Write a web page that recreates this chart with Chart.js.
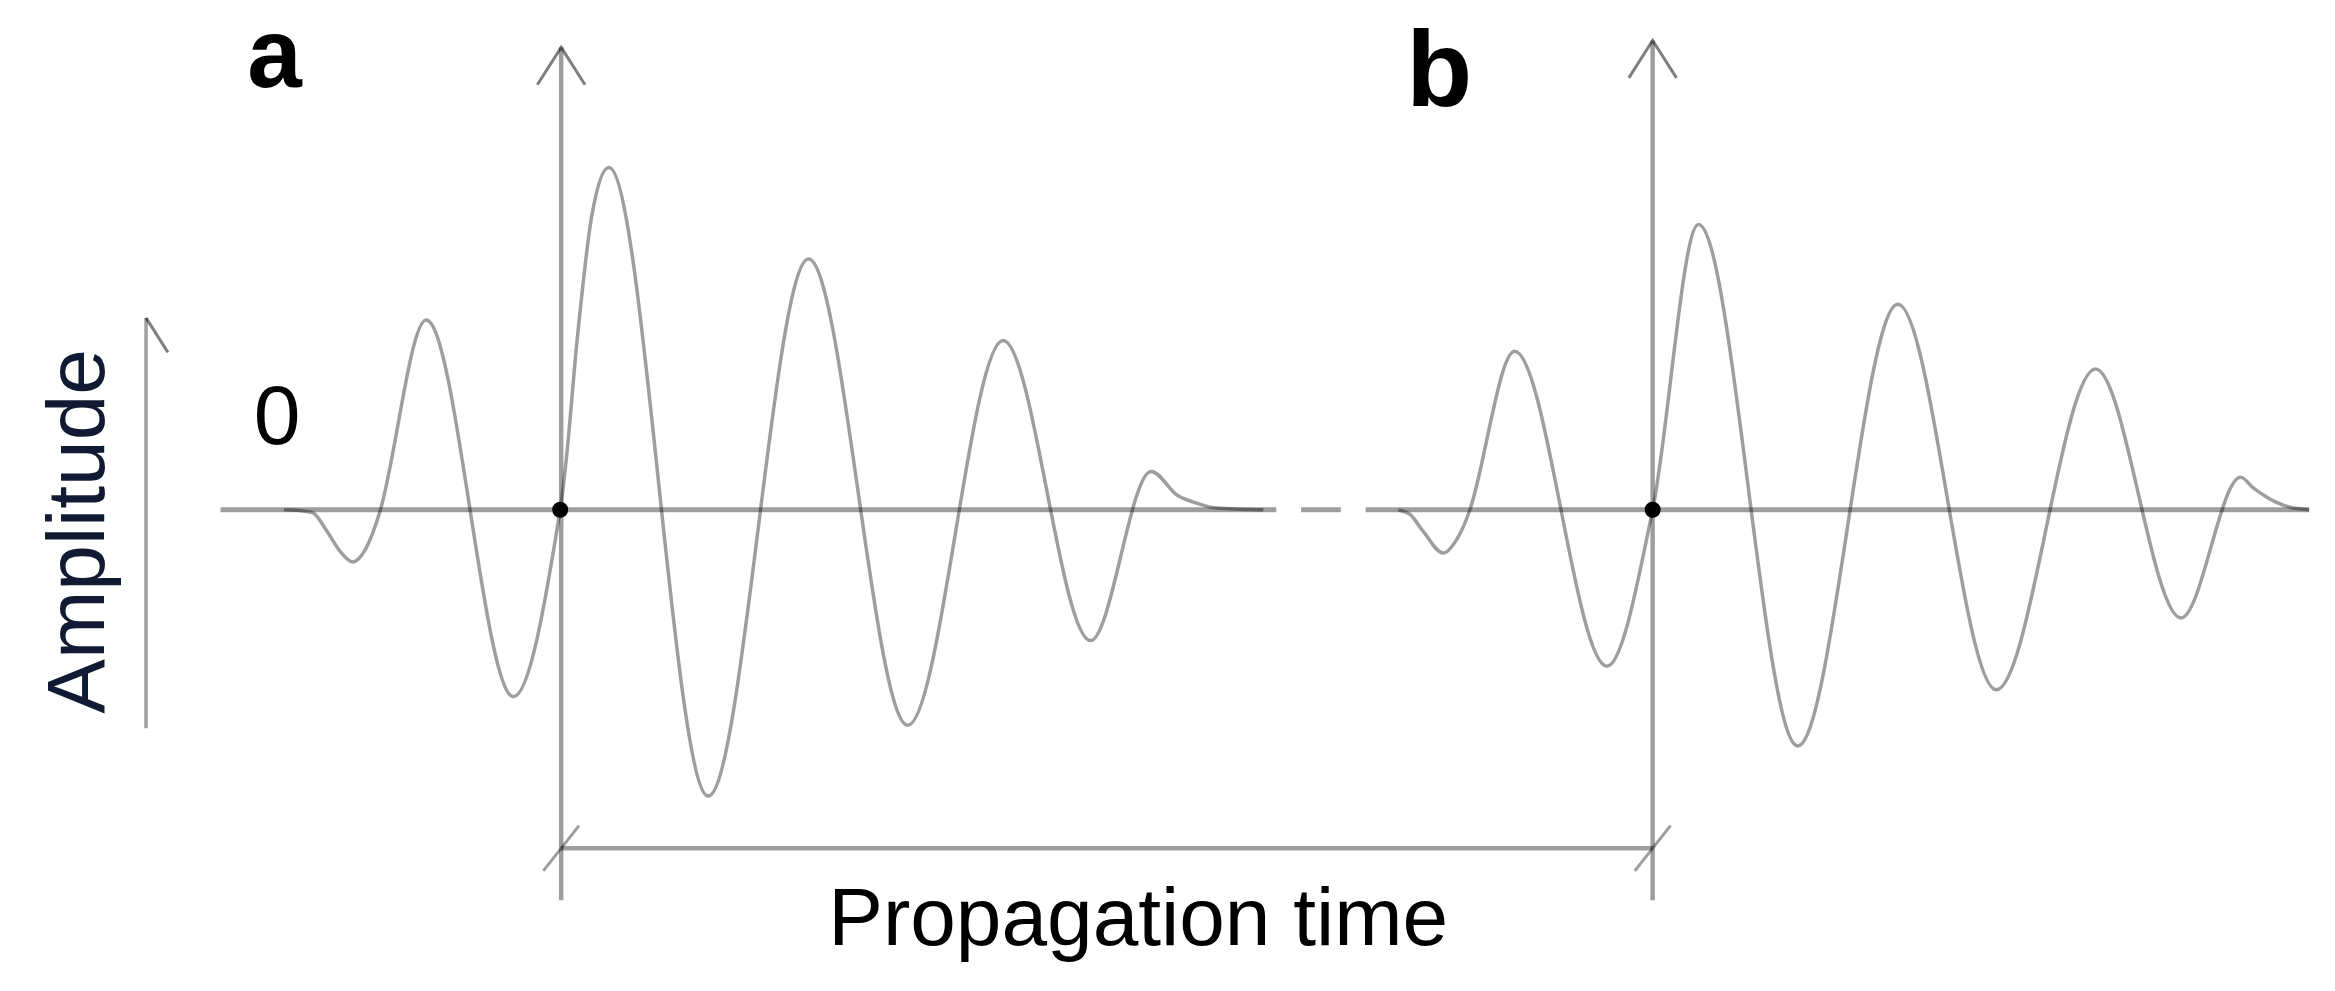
<!DOCTYPE html>
<html>
<head>
<meta charset="utf-8">
<script src="https://cdn.jsdelivr.net/npm/chart.js@4"></script>
<style>
  html, body { margin: 0; padding: 0; background: #fff; }
  canvas { display: block; }
</style>
</head>
<body>
<canvas id="chart" width="2335" height="991"></canvas>
<script>
'use strict'
// valores (tiempo, amplitud; 0 = linea base)
// onda a: inicio, picos/valles, flanco junto al punto de llegada, cola
const waveATime = [278, 307, 320, 335, 347, 360, 375, 421, 509, 556, 563, 573, 588, 605, 705, 806, 906, 1002, 1090, 1151, 1177, 1193, 1215, 1264]
const waveAAmp = [0, -3, -20, -43, -53, -40, 0, 193, -190, 0, 60, 172, 300, 348, -291, 255, -219, 172, -133, 39, 15, 8, 2, 0]
// onda b
const waveBTime = [1400, 1412, 1425, 1445, 1460, 1472, 1517, 1610, 1656, 1702, 1802, 1903, 2002, 2102, 2188, 2248, 2261, 2283, 2300, 2317]
const waveBAmp = [0, -5, -22, -44, -28, 0, 161, -159, 0, 290, -240, 209, -183, 143, -110, 33, 22, 8, 2, 0]
// tramos de la linea base (inicio, fin)
const baseStart = [214, 1302, 1367]
const baseEnd = [1277, 1342, 2317]
// instantes de llegada marcados con punto
const arrivalTime = [556, 1656]
const panelLabels = ['a', 'b']
const yTitle = 'Amplitude'
const xTitle = 'Propagation time'
const zeroLabel = '0'

// geometria de ejes y flechas (unidades del grafico)
const geo = {
    axisA: 557, axisB: 1656,
    axisTopA: 470, axisTopB: 477, axisBottom: -397,
    headW: 24, headH: 38,
    ampX: 139, ampTop: 195, ampBottom: -222,
    bracketY: -344, slashDx: 18, slashDy: 23
}

const pts = (xs, ys) => xs.map((x, i) => ({ x: x, y: ys[i] }))
const grey = 'rgba(0,0,0,0.38)'
const lineStyle = (data, width, color, extra) => Object.assign({
    data: data, borderColor: color || grey, borderWidth: width,
    pointRadius: 0, fill: false, tension: 0
}, extra || {})

// linea base con huecos
const baseData = []
baseStart.forEach((s, i) => {
    if (i > 0) baseData.push({ x: (baseEnd[i - 1] + s) / 2, y: null })
    baseData.push({ x: s, y: 0 }, { x: baseEnd[i], y: 0 })
})

const head = (x, top) => [{ x: x - geo.headW, y: top - geo.headH }, { x: x, y: top }, { x: x + geo.headW, y: top - geo.headH }]
const slash = (x) => [{ x: x - geo.slashDx, y: geo.bracketY - geo.slashDy }, { x: x + geo.slashDx, y: geo.bracketY + geo.slashDy }]

const datasets = [
    lineStyle(baseData, 5, grey, { spanGaps: false }),
    lineStyle([{ x: geo.axisA, y: geo.axisTopA }, { x: geo.axisA, y: geo.axisBottom }], 4.5),
    lineStyle([{ x: geo.axisB, y: geo.axisTopB }, { x: geo.axisB, y: geo.axisBottom }], 4.5),
    lineStyle([{ x: geo.axisA, y: geo.bracketY }, { x: geo.axisB, y: geo.bracketY }], 4.5),
    lineStyle(slash(geo.axisA), 3),
    lineStyle(slash(geo.axisB), 3),
    lineStyle(head(geo.axisA, geo.axisTopA), 3, 'rgba(0,0,0,0.5)'),
    lineStyle(head(geo.axisB, geo.axisTopB), 3, 'rgba(0,0,0,0.5)'),
    lineStyle([{ x: geo.ampX, y: geo.ampBottom }, { x: geo.ampX, y: geo.ampTop }], 3.5),
    lineStyle([{ x: geo.ampX, y: geo.ampTop }, { x: geo.ampX + 22, y: geo.ampTop - 35 }], 3, 'rgba(0,0,0,0.5)'),
    lineStyle(pts(waveATime, waveAAmp), 3.5, grey, { cubicInterpolationMode: 'monotone' }),
    lineStyle(pts(waveBTime, waveBAmp), 3.5, grey, { cubicInterpolationMode: 'monotone' }),
    {
        data: arrivalTime.map(t => ({ x: t, y: 0 })),
        showLine: false, pointRadius: 8, pointBackgroundColor: '#000',
        pointBorderColor: '#000', pointBorderWidth: 0
    }
]

// textos del grafico
const texts = [
    { text: panelLabels[0], x: 241, y: 430, font: 'bold 98px "Liberation Sans"', align: 'left', color: '#000' },
    { text: panelLabels[1], x: 1408, y: 410, font: 'bold 108px "Liberation Sans"', align: 'left', color: '#000' },
    { text: zeroLabel, x: 271, y: 67, font: '84px "Liberation Sans"', align: 'center', color: '#000' },
    { text: xTitle, x: 1138, y: -442, font: '82px "Liberation Sans"', align: 'center', color: '#000' },
    { text: yTitle, x: 97, y: -22, font: '82px "Liberation Sans"', align: 'center', color: '#111a33', rotate: -Math.PI / 2 }
]

const textPlugin = {
    id: 'textos',
    afterDatasetsDraw(chart) {
        const ctx = chart.ctx
        const sx = chart.scales.x, sy = chart.scales.y
        texts.forEach(t => {
            ctx.save()
            ctx.font = t.font
            ctx.fillStyle = t.color
            ctx.textAlign = t.align
            ctx.textBaseline = 'alphabetic'
            ctx.translate(sx.getPixelForValue(t.x), sy.getPixelForValue(t.y))
            if (t.rotate) ctx.rotate(t.rotate)
            ctx.fillText(t.text, 0, 0)
            ctx.restore()
        })
    }
}

const ctx = document.getElementById('chart').getContext('2d')
const myChart = new Chart(ctx, {
    type: 'line',
    data: { datasets: datasets },
    options: {
        responsive: false,
        animation: false,
        devicePixelRatio: 1,
        events: [],
        layout: { padding: 0 },
        plugins: { legend: { display: false }, tooltip: { enabled: false } },
        scales: {
            x: { type: 'linear', min: 0, max: 2335, display: false },
            y: { type: 'linear', min: -481, max: 510, display: false }
        }
    },
    plugins: [textPlugin]
})
</script>
</body>
</html>
